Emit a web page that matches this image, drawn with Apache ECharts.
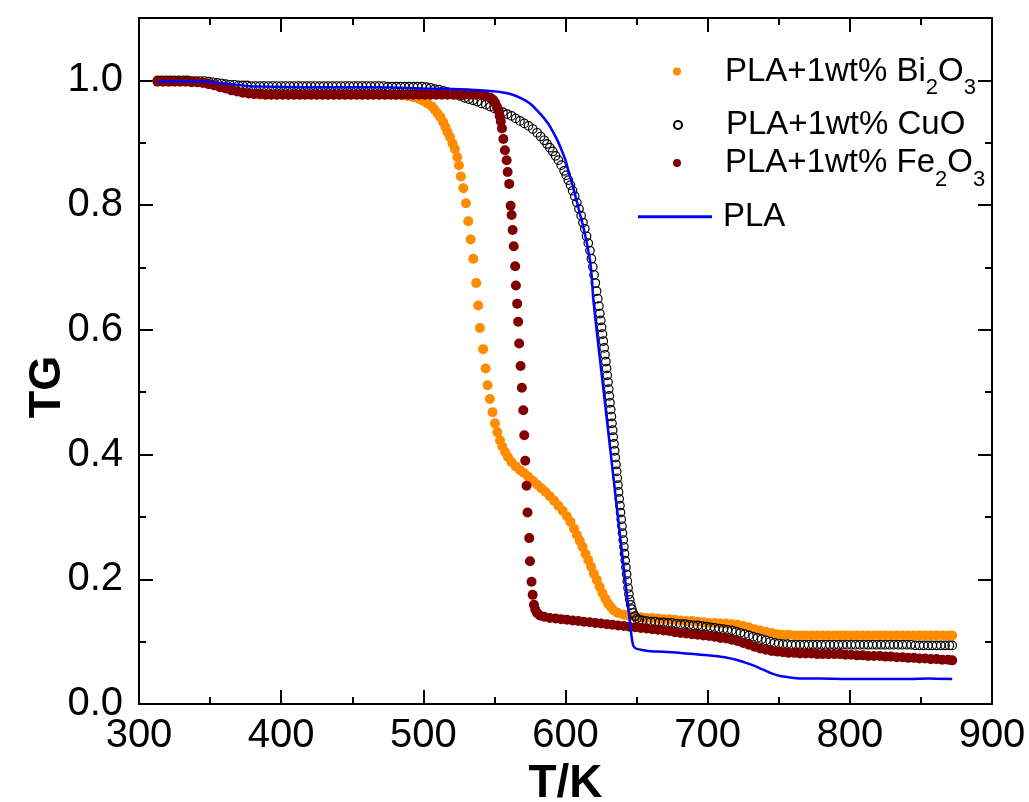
<!DOCTYPE html>
<html>
<head>
<meta charset="utf-8">
<script src="https://cdn.jsdelivr.net/npm/echarts@6/dist/echarts.min.js"></script>
<style>html,body{margin:0;padding:0;background:#fff}#c{width:1029px;height:802px}</style>
</head>
<body>
<div id="c"></div>
<script>
// ---- data: [T (K), TG] ----
const seriesNames = ['PLA+1wt% Bi2O3', 'PLA+1wt% CuO', 'PLA+1wt% Fe2O3', 'PLA'];
const xTicks = [300, 400, 500, 600, 700, 800, 900];
const yTicks = [0.0, 0.2, 0.4, 0.6, 0.8, 1.0];

const bi2o3 = [
[313,0.998],[317,0.998],[321,0.998],[325,0.998],[329,0.998],[333,0.998],[337,0.998],[341,0.997],[345,0.996],[349,0.995],
[353,0.993],[357,0.990],[361,0.988],[365,0.985],[369,0.983],[373,0.981],[377,0.979],[381,0.978],[385,0.977],[389,0.977],
[393,0.977],[397,0.977],[401,0.977],[405,0.977],[409,0.977],[413,0.977],[417,0.977],[421,0.977],[425,0.977],[429,0.977],
[433,0.977],[437,0.977],[441,0.977],[445,0.977],[449,0.977],[453,0.977],[457,0.977],[461,0.977],[465,0.977],[469,0.977],
[473,0.977],[477,0.977],[481,0.976],[485,0.976],[489,0.975],[493,0.973],[497,0.970],[500,0.967],[503,0.963],[506,0.958],
[508,0.953],[510,0.947],[512,0.941],[514,0.933],[515.5,0.925],[517,0.917],[518.7,0.909],[520.5,0.899],[522.2,0.890],[523.8,0.877],
[525,0.864],[526.4,0.846],[528.1,0.827],[530,0.803],[531.6,0.774],[533.3,0.745],[535.1,0.714],[537.2,0.675],[538.6,0.639],[539.8,0.603],
[542.1,0.569],[543.8,0.538],[545.2,0.511],[546.8,0.489],[548.7,0.468],[550.4,0.450],[552,0.436],[553.9,0.423],[555.5,0.413],[557.5,0.404],
[559.5,0.396],[562,0.388],[565,0.381],[568,0.375],[571,0.370],[574,0.364],[577,0.358],[580,0.352],[583,0.346],[586,0.340],
[589,0.333],[592,0.326],[595,0.318],[598,0.310],[601,0.301],[603.5,0.292],[606,0.281],[608,0.271],[610,0.262],[612,0.252],
[614,0.241],[616,0.231],[618,0.220],[620,0.209],[622,0.199],[624,0.188],[626,0.178],[628,0.169],[630,0.161],[632,0.155],
[634,0.150],[637,0.146],[641,0.143],[645,0.141],[649,0.140],[653,0.139],[657,0.138],[661,0.138],[665,0.137],[669,0.136],
[673,0.136],[677,0.135],[681,0.134],[685,0.133],[689,0.133],[693,0.132],[697,0.131],[701,0.130],[705,0.130],[709,0.129],
[713,0.129],[717,0.128],[721,0.127],[725,0.125],[729,0.123],[733,0.120],[737,0.118],[741,0.116],[745,0.114],[749,0.112],
[753,0.111],[757,0.111],[761,0.110],[765,0.110],[769,0.110],[773,0.110],[777,0.110],[781,0.110],[785,0.110],[789,0.110],
[793,0.110],[797,0.110],[801,0.110],[805,0.110],[809,0.110],[813,0.110],[817,0.110],[821,0.110],[825,0.110],[829,0.110],
[833,0.110],[837,0.110],[841,0.110],[845,0.110],[849,0.110],[853,0.110],[857,0.110],[861,0.110],[865,0.110],[869,0.110],[872,0.110]
];

const cuo = [
[313,1.000],[316,1.000],[319,1.000],[322,1.000],[325,1.000],[328,1.000],[331,1.000],[334,1.000],[337,0.999],[340,0.999],
[343,0.999],[346,0.999],[349,0.998],[352,0.997],[355,0.996],[358,0.995],[361,0.994],[364,0.993],[367,0.993],[370,0.992],
[373,0.992],[376,0.992],[379,0.991],[382,0.991],[385,0.991],[388,0.991],[391,0.991],[394,0.991],[397,0.991],[400,0.991],
[403,0.991],[406,0.991],[409,0.991],[412,0.991],[415,0.991],[418,0.991],[421,0.991],[424,0.991],[427,0.991],[430,0.991],
[433,0.991],[436,0.991],[439,0.991],[442,0.991],[445,0.991],[448,0.991],[451,0.991],[454,0.991],[457,0.991],[460,0.991],
[463,0.991],[466,0.991],[469,0.991],[472,0.991],[475,0.990],[478,0.990],[481,0.990],[484,0.990],[487,0.990],[490,0.990],
[493,0.990],[496,0.990],[499,0.990],[502,0.989],[505,0.988],[508,0.986],[511,0.985],[514,0.983],[517,0.981],[520,0.979],
[523,0.977],[526,0.975],[529,0.972],[532,0.970],[535,0.968],[538,0.966],[541,0.963],[544,0.961],[547,0.958],[550,0.955],
[553,0.952],[556,0.949],[559,0.946],[562,0.943],[565,0.939],[568,0.935],[571,0.931],[574,0.927],[577,0.922],[580,0.916],
[582.5,0.910],[585,0.904],[587,0.898],[589,0.892],[591,0.886],[593,0.879],[595,0.872],[597,0.864],[599,0.855],[600.5,0.848],
[602,0.840],[603.5,0.832],[605,0.823],[606.5,0.814],[608,0.804],[609.5,0.794],[611,0.783],[612.3,0.772],[613.6,0.762],[614.8,0.750],
[616,0.739],[617.2,0.727],[618.2,0.714],[619.2,0.701],[620.1,0.688],[621,0.675],[621.9,0.662],[622.7,0.650],[623.5,0.638],[624.2,0.626],
[624.8,0.615],[625.4,0.604],[626.0,0.593],[626.6,0.582],[627.2,0.571],[627.8,0.560],[628.4,0.549],[628.9,0.538],[629.4,0.527],[629.9,0.516],
[630.4,0.505],[630.8,0.494],[631.3,0.483],[631.8,0.472],[632.3,0.461],[632.7,0.450],[633.2,0.439],[633.6,0.428],[634.1,0.417],[634.6,0.406],
[635.0,0.395],[635.5,0.384],[636.0,0.373],[636.4,0.362],[636.9,0.351],[637.3,0.340],[637.8,0.329],[638.3,0.318],[638.7,0.307],[639.2,0.296],
[639.7,0.285],[640.1,0.274],[640.6,0.263],[641.1,0.252],[641.5,0.241],[642.0,0.230],[642.5,0.219],[643.0,0.208],[643.5,0.197],[644.0,0.186],
[644.6,0.176],[645.2,0.167],[645.9,0.159],[646.7,0.152],[647.6,0.146],[648.8,0.141],[650.2,0.137],[652,0.135],[654,0.134],[657,0.133],
[660,0.132],[663,0.132],[666,0.131],[669,0.131],[672,0.130],[675,0.130],[678,0.129],[681,0.128],[684,0.128],[687,0.127],
[690,0.126],[693,0.126],[696,0.125],[699,0.124],[702,0.123],[705,0.122],[708,0.121],[711,0.120],[714,0.119],[717,0.118],
[720,0.116],[723,0.114],[726,0.112],[729,0.110],[732,0.108],[735,0.106],[738,0.104],[741,0.102],[744,0.100],[747,0.098],
[750,0.097],[753,0.096],[756,0.096],[759,0.095],[762,0.095],[765,0.095],[768,0.095],[771,0.095],[774,0.095],[777,0.095],
[780,0.095],[783,0.095],[786,0.095],[789,0.095],[792,0.095],[795,0.095],[798,0.095],[801,0.095],[804,0.095],[807,0.095],
[810,0.095],[813,0.095],[816,0.095],[819,0.095],[822,0.095],[825,0.095],[828,0.095],[831,0.095],[834,0.095],[837,0.095],
[840,0.095],[843,0.095],[846,0.094],[849,0.094],[852,0.094],[855,0.094],[858,0.094],[861,0.094],[864,0.094],[867,0.094],[870,0.094],[872,0.094]
];

const fe2o3 = [
[313,0.998],[317,0.998],[321,0.998],[325,0.998],[329,0.998],[333,0.998],[337,0.997],[341,0.997],[345,0.996],[349,0.994],
[353,0.992],[357,0.989],[361,0.987],[365,0.984],[369,0.982],[373,0.980],[377,0.979],[381,0.978],[385,0.978],[389,0.977],
[393,0.977],[397,0.977],[401,0.977],[405,0.977],[409,0.977],[413,0.977],[417,0.977],[421,0.977],[425,0.977],[429,0.977],
[433,0.977],[437,0.977],[441,0.977],[445,0.977],[449,0.977],[453,0.977],[457,0.977],[461,0.977],[465,0.977],[469,0.977],
[473,0.977],[477,0.977],[481,0.977],[485,0.977],[489,0.977],[493,0.977],[497,0.977],[501,0.977],[505,0.977],[509,0.977],
[513,0.977],[517,0.977],[521,0.977],[525,0.977],[529,0.977],[533,0.977],[537,0.977],[541,0.976],[544,0.975],[547,0.972],
[549,0.969],[550.5,0.964],[551.7,0.958],[552.7,0.952],[553.7,0.943],[554.5,0.934],[555.3,0.923],[556.3,0.906],[557.4,0.888],[558.6,0.872],
[559.3,0.853],[560.4,0.834],[561.4,0.799],[562.1,0.784],[562.8,0.760],[563.6,0.734],[564.6,0.702],[565.1,0.671],[566,0.642],[566.7,0.613],
[567.4,0.578],[568.4,0.542],[569.3,0.507],[570.3,0.471],[571,0.431],[571.7,0.390],[572.6,0.350],[573.3,0.307],[574.5,0.266],[575,0.229],
[576.1,0.196],[576.9,0.175],[577.8,0.159],[578.8,0.151],[580,0.146],[582,0.142],[585,0.140],[589,0.138],[593,0.137],[597,0.136],
[601,0.135],[605,0.134],[609,0.133],[613,0.132],[617,0.131],[621,0.130],[625,0.129],[629,0.128],[633,0.127],[637,0.126],
[641,0.125],[645,0.124],[649,0.123],[653,0.122],[657,0.121],[661,0.120],[665,0.119],[669,0.118],[673,0.117],[677,0.115],
[681,0.114],[685,0.113],[689,0.112],[693,0.111],[697,0.110],[701,0.109],[705,0.108],[709,0.106],[713,0.105],[717,0.103],
[721,0.101],[725,0.098],[729,0.095],[733,0.092],[737,0.089],[741,0.087],[745,0.085],[749,0.084],[753,0.083],[757,0.082],
[761,0.082],[765,0.081],[769,0.081],[773,0.081],[777,0.080],[781,0.080],[785,0.080],[789,0.080],[793,0.080],[797,0.079],
[801,0.079],[805,0.078],[809,0.078],[813,0.077],[817,0.077],[821,0.077],[825,0.076],[829,0.076],[833,0.075],[837,0.075],
[841,0.074],[845,0.074],[849,0.073],[853,0.073],[857,0.072],[861,0.072],[865,0.071],[869,0.071],[872,0.070]
];

const pla = [
[313,0.998],[330,0.998],[345,0.998],[352,0.997],[360,0.995],[368,0.993],[376,0.991],[386,0.990],[420,0.989],[470,0.989],
[500,0.987],[520,0.986],[540,0.984],[555,0.981],[563,0.977],[570,0.970],[575,0.963],[580,0.952],[584.3,0.941],[588,0.930],
[591.3,0.917],[594.5,0.903],[597.3,0.888],[600,0.872],[601.9,0.856],[604.3,0.837],[606.6,0.818],[608.4,0.802],[610.1,0.786],[612,0.770],
[613.6,0.754],[615.5,0.733],[617.2,0.712],[618.5,0.685],[619.5,0.650],[622.6,0.585],[626.9,0.500],[631.9,0.400],[636.9,0.300],[641.9,0.200],
[644.9,0.140],[646.5,0.108],[647.6,0.094],[649.5,0.089],[653,0.087],[658,0.085],[665,0.084],[675,0.083],[685,0.081],[695,0.079],
[705,0.077],[712,0.075],[720,0.071],[727,0.066],[733,0.061],[739,0.055],[745,0.049],[751,0.045],[757,0.043],[765,0.041],
[780,0.041],[800,0.040],[820,0.040],[840,0.040],[855,0.041],[872,0.040]
];

// ---- chart ----
const FONT = "'Liberation Sans', Arial, sans-serif";
const chart = echarts.init(document.getElementById('c'), null, {renderer: 'canvas'});

const axisLineStyle = {color: '#000', width: 2};
function xAx(pos, labels) {
  return {
    type: 'value', position: pos, min: xTicks[0], max: xTicks[xTicks.length - 1], interval: 100,
    axisLine: {show: true, onZero: false, lineStyle: axisLineStyle},
    axisTick: {show: true, inside: true, length: 14, lineStyle: axisLineStyle},
    minorTick: {show: true, splitNumber: 2, length: 7, lineStyle: axisLineStyle},
    splitLine: {show: false}, minorSplitLine: {show: false},
    axisLabel: labels ? {show: true, fontSize: 40, color: '#000', fontFamily: FONT, margin: 12} : {show: false},
    name: labels ? 'T/K' : '', nameLocation: 'middle', nameGap: 52,
    nameTextStyle: {fontSize: 46, fontWeight: 'bold', color: '#000', fontFamily: FONT}
  };
}
function yAx(pos, interval, tickLen, labels) {
  return {
    type: 'value', position: pos, min: 0, max: 1.1, interval: interval,
    axisLine: {show: true, onZero: false, lineStyle: axisLineStyle},
    axisTick: {show: true, inside: true, length: tickLen, lineStyle: axisLineStyle},
    splitLine: {show: false},
    axisLabel: labels ? {
      show: true, fontSize: 40, color: '#000', fontFamily: FONT, margin: 16,
      formatter: v => (v > yTicks[yTicks.length - 1] + 0.05 ? '' : v.toFixed(1))
    } : {show: false},
    name: labels ? 'TG' : '', nameLocation: 'middle', nameGap: 69, nameMoveOverlap: false,
    nameTextStyle: {fontSize: 45, fontWeight: 'bold', color: '#000', fontFamily: FONT, padding: [0, 52, 0, 0]}
  };
}

const legendText = {
  fontSize: 33, color: '#000', fontFamily: FONT, lineHeight: 38, padding: [0, 0, 0, 6],
  rich: {sub: {fontSize: 22, lineHeight: 22, fontFamily: FONT, color: '#000', padding: [33, 0, 0, 0]}}
};
function fmt(n) { return n.replace('Bi2O3', 'Bi{sub|2}O{sub|3}').replace('Fe2O3', 'Fe{sub|2}O{sub|3}'); }
function leg(name, left, top, extra) {
  return Object.assign({
    data: [name], left: left, top: top, orient: 'vertical', padding: 0,
    itemWidth: 74, itemHeight: 8, textStyle: legendText, formatter: fmt, selectedMode: false
  }, extra || {});
}

chart.setOption({
  animation: false,
  backgroundColor: '#fff',
  grid: {left: 139, right: 37, top: 18, bottom: 98, containLabel: false, outerBoundsMode: 'none'},
  xAxis: [xAx('bottom', true), xAx('top', false)],
  yAxis: [yAx('left', 0.2, 14, true), yAx('left', 0.1, 7, false), yAx('right', 0.2, 14, false), yAx('right', 0.1, 7, false)],
  legend: [
    leg(seriesNames[0], 673, 44),
    leg(seriesNames[1], 673, 106),
    leg(seriesNames[2], 673, 135.5),
    leg(seriesNames[3], 638, 197.7, {itemHeight: 3, icon: 'rect'})
  ],
  series: [
    {name: seriesNames[0], type: 'scatter', data: bi2o3, symbol: 'circle', symbolSize: 10,
     itemStyle: {color: '#FF8C00', opacity: 1}},
    {name: seriesNames[1], type: 'scatter', data: cuo, symbol: 'circle', symbolSize: 8.5,
     itemStyle: {color: 'rgba(255,255,255,0)', borderColor: '#000', borderWidth: 1.2, opacity: 1}},
    {name: seriesNames[2], type: 'scatter', data: fe2o3, symbol: 'circle', symbolSize: 10,
     itemStyle: {color: '#800000', opacity: 1}},
    {name: seriesNames[3], type: 'line', data: pla, symbol: 'none', smooth: 0.2,
     lineStyle: {color: '#0000FF', width: 2.5}, itemStyle: {color: '#0000FF'}}
  ]
});
</script>
</body>
</html>
